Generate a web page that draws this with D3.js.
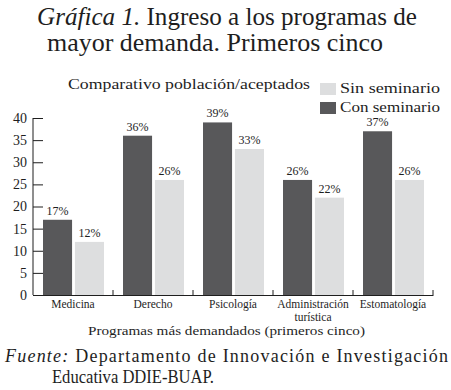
<!DOCTYPE html>
<html>
<head>
<meta charset="utf-8">
<script src="https://cdn.jsdelivr.net/npm/d3@7"></script>
<style>
  body { margin: 0; background: #fff; }
</style>
</head>
<body>
<svg id="chart" width="451" height="390"></svg>
<script>
const programas = [["Medicina"], ["Derecho"], ["Psicología"], ["Administración", "turística"], ["Estomatología"]];
const conSeminario = [17, 36, 39, 26, 37];
const sinSeminario = [12, 26, 33, 22, 26];
const series = ["Con seminario", "Sin seminario"];
const yTicks = [0, 5, 10, 15, 20, 25, 30, 35, 40];

const dark = "#58585a", light = "#dddedf", ink = "#1e1e1e";
const font = "'Liberation Serif'";
const margin = { left: 33, top: 118, right: 18, bottom: 95 };
const width = 451, height = 390;

const svg = d3.select("#chart");

// titulo
const title = svg.append("text").attr("x", 37).attr("y", 25)
    .attr("textLength", 380).attr("lengthAdjust", "spacingAndGlyphs")
    .style("font-size", "26px").attr("fill", ink);
title.append("tspan").style("font-style", "italic").text("Gráfica 1. ");
title.append("tspan").text("Ingreso a los programas de");
svg.append("text").attr("x", 47).attr("y", 51)
    .attr("textLength", 336).attr("lengthAdjust", "spacingAndGlyphs")
    .style("font-size", "26px").attr("fill", ink).text("mayor demanda. Primeros cinco");

svg.append("text").attr("x", 68).attr("y", 89).style("font-size", "14px")
    .attr("textLength", 242).attr("lengthAdjust", "spacingAndGlyphs")
    .attr("fill", ink).text("Comparativo población/aceptados");

const x = d3.scaleBand()
    .domain(programas.map((d, i) => i))
    .range([margin.left, width - margin.right]);

const xSub = d3.scaleBand()
    .domain(series)
    .range([10, x.bandwidth() - 9])
    .paddingInner(0.09);

const y = d3.scaleLinear()
    .domain([0, 40])
    .range([height - margin.bottom, margin.top]);

const data = programas.map((p, i) => ({ i, values: [
    { s: "Con seminario", v: conSeminario[i], c: dark },
    { s: "Sin seminario", v: sinSeminario[i], c: light }
] }));

const groups = svg.selectAll(".grp").data(data).enter().append("g")
    .attr("class", "grp")
    .attr("transform", d => "translate(" + x(d.i) + ",0)");

groups.selectAll("rect").data(d => d.values).enter().append("rect")
    .attr("x", d => xSub(d.s))
    .attr("width", xSub.bandwidth())
    .attr("y", d => y(d.v))
    .attr("height", d => y(0) - y(d.v))
    .attr("fill", d => d.c);

groups.selectAll(".lbl").data(d => d.values).enter().append("text")
    .attr("class", "lbl")
    .attr("x", d => xSub(d.s) + xSub.bandwidth() / 2)
    .attr("y", d => y(d.v) - 5)
    .attr("text-anchor", "middle")
    .style("font-size", "12px").attr("fill", ink)
    .text(d => d.v + "%");

// eje y
const yAxis = svg.append("g")
    .attr("transform", "translate(" + margin.left + ",0)")
    .call(d3.axisRight(y).tickValues(yTicks).tickSize(10).tickFormat(d => d));
yAxis.select(".domain").attr("d", "M0," + y(0) + "V" + y(40)).attr("stroke", ink);
yAxis.selectAll(".tick line").attr("stroke", ink);
yAxis.selectAll(".tick text").attr("x", -6).attr("text-anchor", "end")
    .style("font-size", "14px").attr("fill", ink);

// eje x
const xAxis = svg.append("g")
    .attr("transform", "translate(0," + y(0) + ")")
    .call(d3.axisBottom(x).tickSize(0).tickFormat(""));
xAxis.select(".domain").attr("stroke", ink);
svg.append("g").selectAll("line").data(programas.map((d, i) => i)).enter().append("line")
    .attr("x1", d => x(d) + x.bandwidth()).attr("x2", d => x(d) + x.bandwidth())
    .attr("y1", y(0)).attr("y2", y(0) - 5).attr("stroke", ink);

const xl = svg.append("g").selectAll("text").data(programas).enter().append("text")
    .attr("x", (d, i) => x(i) + x.bandwidth() / 2)
    .attr("y", y(0) + 13)
    .attr("text-anchor", "middle")
    .style("font-size", "11.5px").attr("fill", ink);
xl.selectAll("tspan").data(d => d).enter().append("tspan")
    .attr("x", function () { return d3.select(this.parentNode).attr("x"); })
    .attr("dy", (d, i) => i ? 13 : 0)
    .text(d => d);

svg.append("text").attr("x", 88).attr("y", 335)
    .style("font-size", "13px").attr("textLength", 277).attr("lengthAdjust", "spacingAndGlyphs")
    .attr("fill", ink).text("Programas más demandados (primeros cinco)");

// leyenda
const leg = svg.append("g").selectAll("g").data(["Sin seminario", "Con seminario"]).enter().append("g")
    .attr("transform", (d, i) => "translate(320," + (83 + i * 19) + ")");
leg.append("rect").attr("width", 16).attr("height", 12)
    .attr("fill", d => d === "Con seminario" ? dark : light);
leg.append("text").attr("x", 20).attr("y", 10).style("font-size", "15px")
    .attr("textLength", 100).attr("lengthAdjust", "spacingAndGlyphs")
    .attr("fill", ink).text(d => d);

// fuente
const f = svg.append("text").attr("x", 5).attr("y", 362).style("font-size", "18px")
    .attr("textLength", 443).attr("lengthAdjust", "spacing").attr("fill", ink);
f.append("tspan").style("font-style", "italic").text("Fuente: ");
f.append("tspan").text("Departamento de Innovación e Investigación");
svg.append("text").attr("x", 52).attr("y", 383).style("font-size", "18px")
    .attr("textLength", 162).attr("lengthAdjust", "spacingAndGlyphs")
    .attr("fill", ink).text("Educativa DDIE-BUAP.");

// misma fuente en todos los textos
svg.selectAll("text").attr("font-family", font);
</script>
</body>
</html>
